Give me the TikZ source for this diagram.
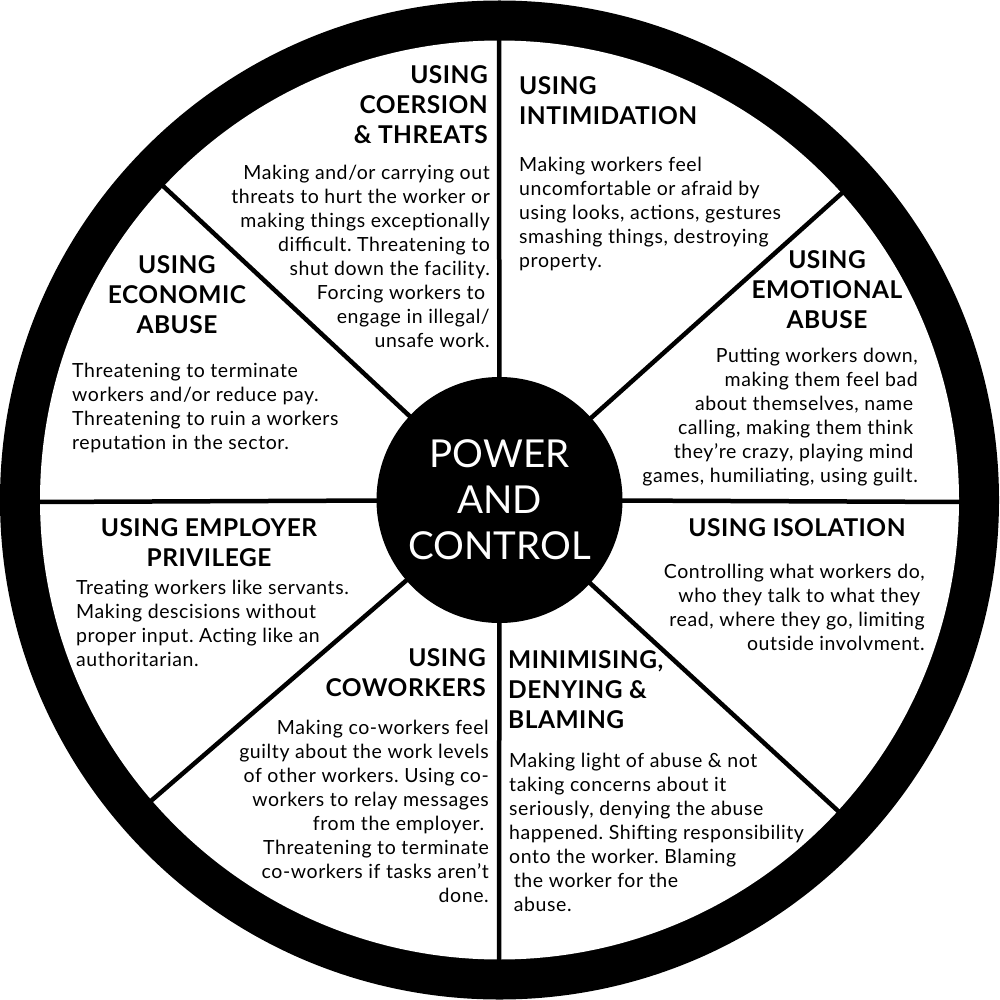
\documentclass[tikz,border=0pt]{standalone}
\usepackage{fontspec}
\setmainfont{Lato}
\frenchspacing
\usetikzlibrary{positioning}
\tikzset{
rim/.style   = {fill=black},
face/.style  = {fill=white},
spoke/.style = {draw, line width=4.5pt},
hub/.style   = {circle, fill=black, text=white, minimum size=246pt, inner sep=0pt, align=center, font=\fontsize{38.5}{46}\selectfont},
head/.style  = {inner sep=0pt, font=\fontsize{24.5}{30}\selectfont\bfseries\addfontfeature{LetterSpace=2}},
body/.style  = {inner sep=0pt, font=\fontsize{19.5}{24}\selectfont\addfontfeature{LetterSpace=3}}
}

\begin{document}
\begin{tikzpicture}[x=1pt, y=-1pt]
  \useasboundingbox (0,0) rectangle (999,1000);
  \coordinate (c)  at (499.5,500);
  \coordinate (n)  at (499,35);
  \coordinate (s)  at (499,965);
  \coordinate (w)  at (35,502);
  \coordinate (e)  at (964,502);
  \coordinate (nw) at (155.9,179.3);
  \coordinate (ne) at (849.5,186.3);
  \coordinate (sw) at (143.8,807.1);
  \coordinate (se) at (845.6,817.9);

  \fill [rim]  (c) circle (499.5pt);
  \fill [face] (c) circle (459.5pt);

  \draw [spoke] (c) -- (n);
  \draw [spoke] (c) -- (ne);
  \draw [spoke] (c) -- (e);
  \draw [spoke] (c) -- (se);
  \draw [spoke] (c) -- (s);
  \draw [spoke] (c) -- (sw);
  \draw [spoke] (c) -- (w);
  \draw [spoke] (c) -- (nw);

  \node [hub] (hub) at (c) {POWER\\AND\\CONTROL};

  \node [head, align=right,  anchor=north east] (coerhead) at (488,65)  {USING\\COERSION\\\& THREATS};
  \node [body, align=right,  anchor=north east] (coerbody) at (490,165) {Making and/or carrying out\\threats to hurt the worker or\\making things exceptionally\\difficult. Threatening to\\shut down the facility.\\Forcing workers to\hphantom{i}\\engage in illegal/\\unsafe work.};

  \node [head, align=left,   anchor=north west] (intihead) at (519,76)  {USING\\INTIMIDATION};
  \node [body, align=left,   anchor=north west] (intibody) at (519,157) {Making workers feel\\uncomfortable or afraid by\\using looks, actions, gestures\\smashing things, destroying\\property.};

  \node [head, align=center, anchor=north]      (emothead) at (827,250) {USING\\EMOTIONAL\\ABUSE};
  \node [body, align=right,  anchor=north east] (emotbody) at (918,348) {Putting workers down,\\making them feel bad\\about themselves, name\hphantom{i}\\calling, making them think\hphantom{i}\\they're crazy, playing mind\hphantom{i}\\games, humiliating, using guilt.};

  \node [head, align=center, anchor=north]      (isolhead) at (797,518) {USING ISOLATION};
  \node [body, align=right,  anchor=north east] (isolbody) at (925,564) {Controlling what workers do,\\who they talk to what they\hphantom{i}\\read, where they go, limiting\\outside involvment.};

  \node [head, align=left,   anchor=north west] (minihead) at (508,650) {MINIMISING,\\DENYING \&\\BLAMING};
  \node [body, align=left,   anchor=north west] (minibody) at (509,753) {Making light of abuse \& not\\taking concerns about it\\seriously, denying the abuse\\happened. Shifting responsibility\\onto the worker. Blaming\\\hphantom{i}the worker for the\\\hphantom{i}abuse.};

  \node [head, align=right,  anchor=north east] (cowohead) at (486,648) {USING\\COWORKERS};
  \node [body, align=right,  anchor=north east] (cowobody) at (489,720) {Making co-workers feel\\guilty about the work levels\\of other workers. Using co-\\workers to relay messages\\from the employer.\hphantom{i}\\Threatening to terminate\\co-workers if tasks aren't\\done.};

  \node [head, align=center, anchor=north]      (emplhead) at (209,518) {USING EMPLOYER\\PRIVILEGE};
  \node [body, align=left,   anchor=north west] (emplbody) at (76,580)  {Treating workers like servants.\\Making descisions without\\proper input. Acting like an\\authoritarian.};

  \node [head, align=center, anchor=north]      (econhead) at (177,255) {USING\\ECONOMIC\\ABUSE};
  \node [body, align=left,   anchor=north west] (econbody) at (72,363)  {Threatening to terminate\\workers and/or reduce pay.\\Threatening to ruin a workers\\reputation in the sector.};
\end{tikzpicture}
\end{document}
